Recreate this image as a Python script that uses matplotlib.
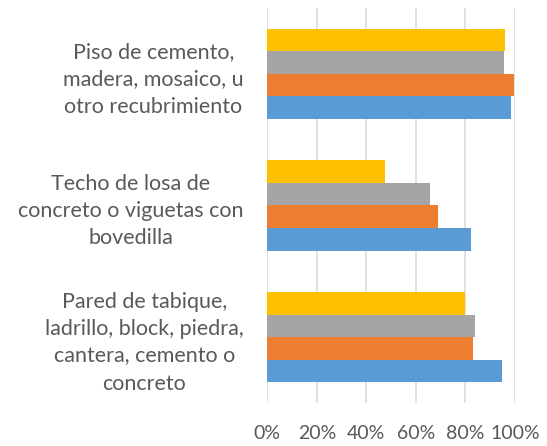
import numpy as np
import matplotlib.pyplot as plt

# Categorías (de abajo hacia arriba) y valores de cada serie (%)
categorias = ['Pared de tabique,\nladrillo, block, piedra,\ncantera, cemento o\nconcreto',
              'Techo de losa de\nconcreto o viguetas con\nbovedilla',
              'Piso de cemento,\nmadera, mosaico, u\notro recubrimiento']
serie_azul = [94.6, 82.4, 98.5]
serie_naranja = [82.9, 68.8, 99.6]
serie_gris = [84.0, 65.7, 95.6]
serie_amarilla = [79.8, 47.6, 96.0]

series = [serie_azul, serie_naranja, serie_gris, serie_amarilla]
colores = ['#5B9BD5', '#ED7D31', '#A5A5A5', '#FFC000']
ticks = [0, 20, 40, 60, 80, 100]

plt.rcParams['font.family'] = ['Lato', 'DejaVu Sans']

fig = plt.figure(figsize=(5.47, 4.46), dpi=100)
ax = fig.add_axes([0.4887, 0.0964, 0.4528, 0.8857])

y = np.arange(len(categorias))
alto = 0.171
for i, (valores, color) in enumerate(zip(series, colores)):
    ax.barh(y + (i - 1.5) * alto, valores, height=alto, color=color, zorder=3)

ax.set_xlim(0, 100)
ax.set_ylim(-0.5, 2.5)
ax.set_xticks(ticks)
ax.set_xticklabels([f'{t}%' for t in ticks])
ax.set_yticks(y)
ax.set_yticklabels(categorias, multialignment='center', linespacing=1.45)

ax.grid(axis='x', color='#D9D9D9', linewidth=1.1, zorder=0)
for s in ax.spines.values():
    s.set_visible(False)
ax.tick_params(axis='both', length=0, colors='#595959')
ax.tick_params(axis='x', labelsize=14, pad=16)
ax.tick_params(axis='y', labelsize=15.5, pad=17)

plt.savefig('out.png', dpi=100)
